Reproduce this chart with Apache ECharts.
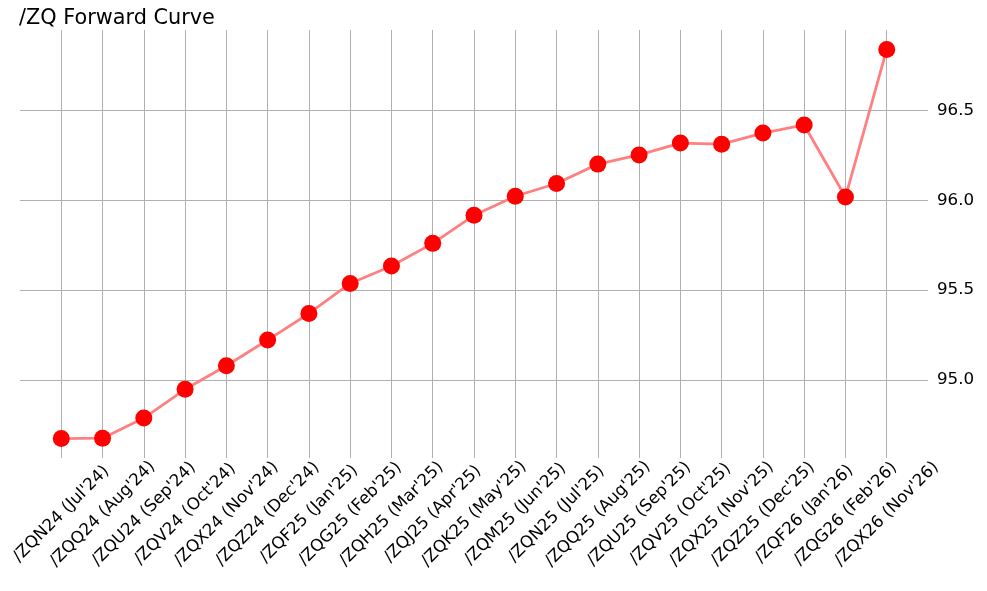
<!DOCTYPE html>
<html>
<head>
<meta charset="utf-8">
<script src="https://cdn.jsdelivr.net/npm/echarts@6/dist/echarts.min.js"></script>
<style>
html,body{margin:0;padding:0;background:#fff;}
#chart{width:987px;height:591px;}
</style>
</head>
<body>
<div id="chart"></div>
<script>
const categories = [
  "/ZQN24 (Jul'24)", "/ZQQ24 (Aug'24)", "/ZQU24 (Sep'24)", "/ZQV24 (Oct'24)",
  "/ZQX24 (Nov'24)", "/ZQZ24 (Dec'24)", "/ZQF25 (Jan'25)", "/ZQG25 (Feb'25)",
  "/ZQH25 (Mar'25)", "/ZQJ25 (Apr'25)", "/ZQK25 (May'25)", "/ZQM25 (Jun'25)",
  "/ZQN25 (Jul'25)", "/ZQQ25 (Aug'25)", "/ZQU25 (Sep'25)", "/ZQV25 (Oct'25)",
  "/ZQX25 (Nov'25)", "/ZQZ25 (Dec'25)", "/ZQF26 (Jan'26)", "/ZQG26 (Feb'26)",
  "/ZQX26 (Nov'26)"
];
const prices = [
  94.674, 94.676, 94.788, 94.948, 95.079, 95.222, 95.370, 95.537,
  95.634, 95.760, 95.916, 96.022, 96.093, 96.201, 96.252, 96.318,
  96.312, 96.374, 96.419, 96.018, 96.839
];
const yTicks = [95.0, 95.5, 96.0, 96.5];

const FONT = 'DejaVu Sans';
const chart = echarts.init(document.getElementById('chart'), null, {renderer: 'canvas'});
const seriesData = prices.map((v, i) => [i, v]);
const pad = 0.05;

chart.setOption({
  animation: false,
  backgroundColor: '#ffffff',
  title: {
    text: '/ZQ Forward Curve',
    left: 14,
    top: 3,
    textStyle: {fontFamily: FONT, fontSize: 20.8, fontWeight: 'normal', color: '#000'}
  },
  grid: {left: 20, right: 59, top: 30, bottom: 133, containLabel: false},
  xAxis: {
    type: 'value',
    min: -pad * (categories.length - 1),
    max: (categories.length - 1) * (1 + pad),
    interval: 1,
    axisLine: {show: false},
    axisTick: {show: false},
    splitLine: {show: true, showMinLine: false, showMaxLine: false, lineStyle: {color: '#b0b0b0', width: 1}},
    axisLabel: {
      formatter: v => (Number.isInteger(v) && categories[v]) ? categories[v] : '',
      rotate: 45,
      align: 'center',
      verticalAlign: 'middle',
      margin: 56,
      fontFamily: FONT,
      fontSize: 16.7,
      color: '#000',
      showMinLabel: false,
      showMaxLabel: false
    }
  },
  yAxis: {
    type: 'value',
    position: 'right',
    min: e => e.min - pad * (e.max - e.min),
    max: e => e.max + pad * (e.max - e.min),
    splitNumber: 5,
    axisLine: {show: false},
    axisTick: {show: false},
    splitLine: {show: true, showMinLine: false, showMaxLine: false, lineStyle: {color: '#b0b0b0', width: 1}},
    axisLabel: {
      margin: 9,
      fontFamily: FONT,
      fontSize: 16.7,
      color: '#000',
      showMinLabel: false,
      showMaxLabel: false,
      formatter: v => yTicks.some(t => Math.abs(t - v) < 1e-9) ? v.toFixed(1) : ''
    }
  },
  series: [{
    type: 'line',
    data: seriesData,
    symbol: 'circle',
    symbolSize: 17,
    lineStyle: {color: '#ff8080', width: 2.8},
    itemStyle: {color: '#ff0000'},
    emphasis: {disabled: true},
    z: 3
  }]
});
</script>
</body>
</html>
